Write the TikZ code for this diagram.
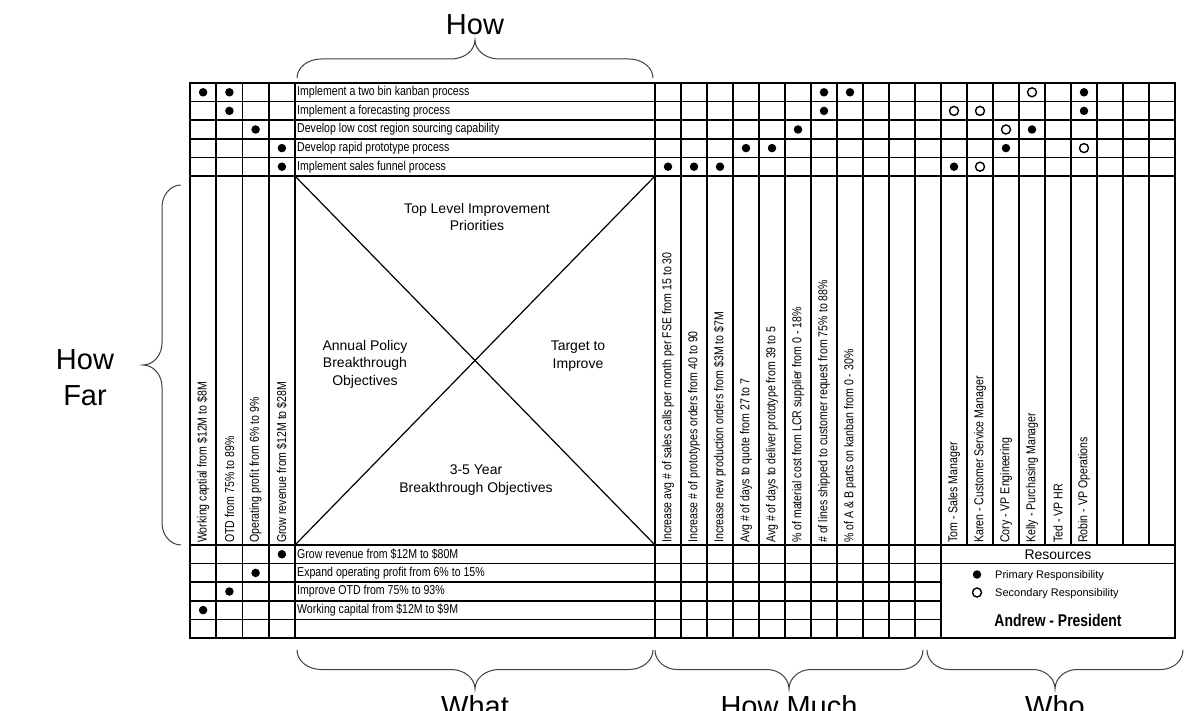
\documentclass[tikz,border=0pt]{standalone}
\usepackage{fontspec}
\setmainfont{Liberation Sans}
\newfontfamily\narrow[FakeStretch=0.82]{Liberation Sans}
\newcommand{\hbr}[5]{%
 \pgfmathsetmacro{\ym}{(#3+#4)/2}%
 \pgfmathsetmacro{\xm}{(#1+#2)/2}%
 \pgfmathsetmacro{\ya}{#3+0.55*(\ym-#3)}%
 \pgfmathsetmacro{\yb}{\ym+0.45*(#4-\ym)}%
 \draw[brl] (#1,#3) .. controls (#1,\ya) and ({#1+0.45*#5},\ym) .. ({#1+#5},\ym) -- ({\xm-#5},\ym) .. controls ({\xm-0.45*#5},\ym) and (\xm,\yb) .. (\xm,#4) .. controls (\xm,\yb) and ({\xm+0.45*#5},\ym) .. ({\xm+#5},\ym) -- ({#2-#5},\ym) .. controls ({#2-0.45*#5},\ym) and (#2,\ya) .. (#2,#3);}
\newcommand{\vbr}[5]{%
 \pgfmathsetmacro{\xmm}{(#3+#4)/2}%
 \pgfmathsetmacro{\ymm}{(#1+#2)/2}%
 \pgfmathsetmacro{\xa}{#3+0.55*(\xmm-#3)}%
 \pgfmathsetmacro{\xb}{\xmm+0.45*(#4-\xmm)}%
 \draw[brl] (#3,#1) .. controls (\xa,#1) and (\xmm,{#1+0.45*#5}) .. (\xmm,{#1+#5}) -- (\xmm,{\ymm-#5}) .. controls (\xmm,{\ymm-0.45*#5}) and (\xb,\ymm) .. (#4,\ymm) .. controls (\xb,\ymm) and (\xmm,{\ymm+0.45*#5}) .. (\xmm,{\ymm+#5}) -- (\xmm,{#2-#5}) .. controls (\xmm,{#2-0.45*#5}) and (\xa,#2) .. (#3,#2);}
\begin{document}
\begin{tikzpicture}[x=1pt,y=-1pt,
  grid/.style={line width=1.6pt},
  xline/.style={line width=1.2pt},
  rowtxt/.style={anchor=west, inner sep=0pt, font=\narrow\fontsize{12.9}{14}\selectfont},
  vtxt/.style={rowtxt, rotate=90},
  quad/.style={align=center, inner sep=0pt, font=\fontsize{14}{17.5}\selectfont},
  big/.style={anchor=base, inner sep=0pt, font=\fontsize{29}{34}\selectfont},
  pdot/.style={circle, fill=black, minimum size=8.5pt, inner sep=0pt},
  sdot/.style={circle, draw=black, fill=white, line width=1.4pt, minimum size=9pt, inner sep=0pt},
  brl/.style={line width=1pt, draw=black!75}]
\useasboundingbox (0,0) rectangle (1200,711);
\fill[white] (0,0) rectangle (1200,711);
% grid
\foreach \i in {0,...,5} {\pgfmathsetmacro\yy{83+18.6*\i}\draw[grid] (190,\yy) -- (1175,\yy);}
\foreach \i in {0,1,5} {\pgfmathsetmacro\yy{545+18.6*\i}\draw[grid] (190,\yy) -- (1175,\yy);}
\foreach \i in {2,3,4} {\pgfmathsetmacro\yy{545+18.6*\i}\draw[grid] (190,\yy) -- (941,\yy);}
\foreach \i in {0,...,4} {\pgfmathsetmacro\xx{190+26.25*\i}\draw[grid] (\xx,83) -- (\xx,638);}
\draw[grid] (655,83) -- (655,638);
\foreach \j in {1,...,11} {\pgfmathsetmacro\xx{655+26*\j}\draw[grid] (\xx,83) -- (\xx,638);}
\foreach \j in {12,...,19} {\pgfmathsetmacro\xx{655+26*\j}\draw[grid] (\xx,83) -- (\xx,545);}
\draw[grid] (190,83) rectangle (1175,638);
% X
\coordinate (xtl) at (295,176);
\coordinate (xtr) at (655,176);
\coordinate (xbl) at (295,545);
\coordinate (xbr) at (655,545);
\draw[xline] (xtl) -- (xbr);
\draw[xline] (xtr) -- (xbl);
\node[quad] (q1) at (477,217) {Top Level Improvement\\Priorities};
\node[quad] (q2) at (365,364) {Annual Policy\\Breakthrough\\Objectives};
\node[quad] (q3) at (578,356) {Target to\\Improve};
\node[quad] (q4) at (476,480) {3-5 Year\\Breakthrough Objectives};
% top rows
\node[rowtxt] (t1) at (297,92.3) {Implement a two bin kanban process};
\node[rowtxt] (t2) at (297,110.9) {Implement a forecasting process};
\node[rowtxt] (t3) at (297,129.5) {Develop low cost region sourcing capability};
\node[rowtxt] (t4) at (297,148.1) {Develop rapid prototype process};
\node[rowtxt] (t5) at (297,166.7) {Implement sales funnel process};
% bottom rows
\node[rowtxt] (b1) at (297,554.3) {Grow revenue from \$12M to \$80M};
\node[rowtxt] (b2) at (297,572.9) {Expand operating profit from 6\% to 15\%};
\node[rowtxt] (b3) at (297,591.5) {Improve OTD from 75\% to 93\%};
\node[rowtxt] (b4) at (297,610.1) {Working capital from \$12M to \$9M};
% left vertical
\node[vtxt] (v1) at (203.1,543) {Working captial from \$12M to \$8M};
\node[vtxt] (v2) at (229.4,543) {OTD from 75\% to 89\%};
\node[vtxt] (v3) at (255.6,543) {Operating profit from 6\% to 9\%};
\node[vtxt] (v4) at (281.9,543) {Grow revenue from \$12M to \$28M};
% how much vertical
\node[vtxt] (m1) at (668,543) {Increase avg \# of sales calls per month per FSE from 15 to 30};
\node[vtxt] (m2) at (694,543) {Increase \# of prototypes orders from 40 to 90};
\node[vtxt] (m3) at (720,543) {Increase new production orders from \$3M to \$7M};
\node[vtxt] (m4) at (746,543) {Avg \# of days to quote from 27 to 7};
\node[vtxt] (m5) at (772,543) {Avg \# of days to deliver prototype from 39 to 5};
\node[vtxt] (m6) at (798,543) {\% of material cost from LCR supplier from 0 - 18\%};
\node[vtxt] (m7) at (824,543) {\# of lines shipped to customer request from 75\% to 88\%};
\node[vtxt] (m8) at (850,543) {\% of A \& B parts on kanban from 0 - 30\%};
% who vertical
\node[vtxt] (p1) at (954,543) {Tom - Sales Manager};
\node[vtxt] (p2) at (980,543) {Karen - Customer Service Manager};
\node[vtxt] (p3) at (1006,543) {Cory - VP Engineering};
\node[vtxt] (p4) at (1032,543) {Kelly - Purchasing Manager};
\node[vtxt] (p5) at (1058,543) {Ted - VP HR};
\node[vtxt] (p6) at (1084,543) {Robin - VP Operations};
% dots row 1
\node[pdot] (a11) at (203.1,92.3) {};
\node[pdot] (a12) at (229.4,92.3) {};
\node[pdot] (h17) at (824,92.3) {};
\node[pdot] (h18) at (850,92.3) {};
\node[sdot] (w14) at (1032,92.3) {};
\node[pdot] (w16) at (1084,92.3) {};
% row 2
\node[pdot] (a22) at (229.4,110.9) {};
\node[pdot] (h27) at (824,110.9) {};
\node[sdot] (w21) at (954,110.9) {};
\node[sdot] (w22) at (980,110.9) {};
\node[pdot] (w26) at (1084,110.9) {};
% row 3
\node[pdot] (a33) at (255.6,129.5) {};
\node[pdot] (h36) at (798,129.5) {};
\node[sdot] (w33) at (1006,129.5) {};
\node[pdot] (w34) at (1032,129.5) {};
% row 4
\node[pdot] (a44) at (281.9,148.1) {};
\node[pdot] (h44) at (746,148.1) {};
\node[pdot] (h45) at (772,148.1) {};
\node[pdot] (w43) at (1006,148.1) {};
\node[sdot] (w46) at (1084,148.1) {};
% row 5
\node[pdot] (a54) at (281.9,166.7) {};
\node[pdot] (h51) at (668,166.7) {};
\node[pdot] (h52) at (694,166.7) {};
\node[pdot] (h53) at (720,166.7) {};
\node[pdot] (w51) at (954,166.7) {};
\node[sdot] (w52) at (980,166.7) {};
% bottom dots
\node[pdot] (c14) at (281.9,554.3) {};
\node[pdot] (c23) at (255.6,572.9) {};
\node[pdot] (c32) at (229.4,591.5) {};
\node[pdot] (c41) at (203.1,610.1) {};
% legend
\node[inner sep=0pt, font=\fontsize{14}{16}\selectfont] (res) at (1058,555) {Resources};
\node[pdot] (lp) at (977,574.5) {};
\node[sdot] (ls) at (977,592.5) {};
\node[anchor=west, inner sep=0pt, font=\fontsize{11}{13}\selectfont] (lpt) at (995,575.5) {Primary Responsibility};
\node[anchor=west, inner sep=0pt, font=\fontsize{11}{13}\selectfont] (lst) at (995,593.5) {Secondary Responsibility};
\node[inner sep=0pt, font=\narrow\bfseries\fontsize{17}{18}\selectfont] (pres) at (1058,620.5) {Andrew - President};
% braces
\hbr{297}{653}{78}{40}{24}
\hbr{297}{653}{650}{689}{24}
\hbr{655}{923}{650}{689}{22}
\hbr{927}{1183}{650}{689}{22}
\vbr{185}{545}{181}{143}{22}
% labels
\node[big] (lhow) at (475,35) {How};
\node[big] (lhf1) at (85,370) {How};
\node[big] (lhf2) at (85,406) {Far};
\node[big] (lwhat) at (475,716) {What};
\node[big] (lmuch) at (789,716) {How Much};
\node[big] (lwho) at (1055,716) {Who};
\end{tikzpicture}
\end{document}
